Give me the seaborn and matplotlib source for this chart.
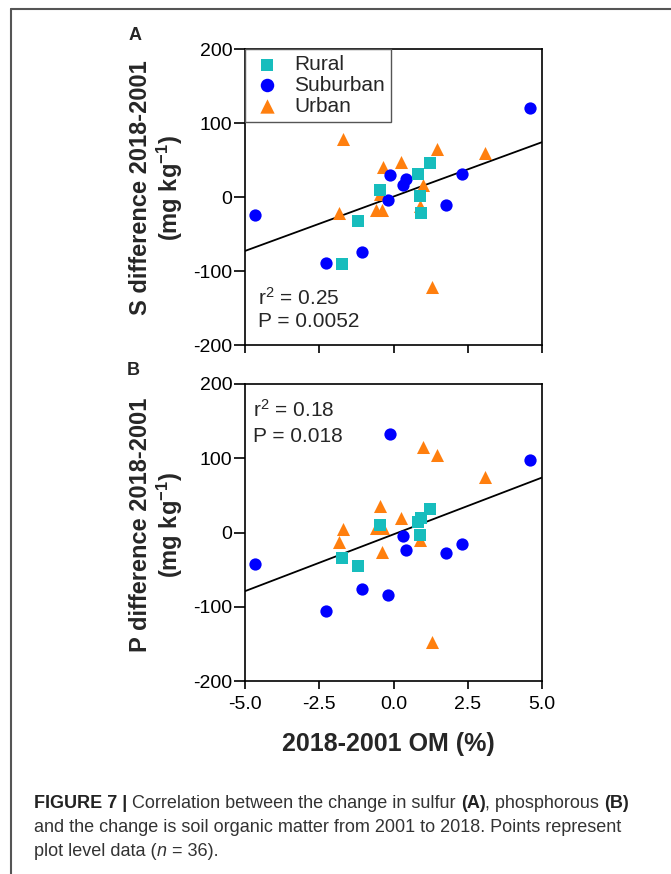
import numpy as np
import pandas as pd
import matplotlib
matplotlib.use("Agg")
import matplotlib.pyplot as plt
from matplotlib.lines import Line2D
import seaborn as sns

# ---------------- data ----------------
groups = ["Rural", "Suburban", "Urban"]

rural_om = [-1.73, -1.20, -0.45, 0.84, 0.90, 0.92, 1.22]
rural_s = [-91, -32, 10, 31, 1, -22, 46]
rural_p = [-35, -45, 10, 14, -4, 20, 31]

suburban_om = [-4.66, -2.27, -1.07, -0.18, -0.11, 0.31, 0.43, 1.78, 2.30, 4.60]
suburban_s = [-24, -89, -74, -4, 30, 16, 24, -11, 31, 120]
suburban_p = [-43, -106, -76, -84, 133, -5, -24, -28, -16, 98]

urban_om = [-1.84, -1.71, -0.58, -0.47, -0.39, -0.36, 0.25, 0.88, 1.01, 1.31, 1.46, 3.07]
urban_s = [-21, 78, -17, 4, -17, 40, 47, -12, 16, -121, 65, 60]
urban_p = [-13, 5, 6, 36, -26, 6, 20, -10, 115, -148, 105, 75]

# fitted regression lines (slope, intercept)
fit_s = (14.7, 0.6)
fit_p = (15.3, -2.5)

stats_s = ["r$^2$ = 0.25", "P = 0.0052"]
stats_p = ["r$^2$ = 0.18", "P = 0.018"]

x_ticks = [-5.0, -2.5, 0.0, 2.5, 5.0]
x_ticklabels = ["-5.0", "-2.5", "0.0", "2.5", "5.0"]
y_ticks = [-200, -100, 0, 100, 200]

ylabel_s = "S difference 2018-2001\n(mg kg$^{\\mathbf{-1}}$)"
ylabel_p = "P difference 2018-2001\n(mg kg$^{\\mathbf{-1}}$)"
xlabel = "2018-2001 OM (%)"

caption = [
    [("FIGURE 7 | ", "bold", "normal"), ("Correlation between the change in sulfur ", "normal", "normal"),
     ("(A)", "bold", "normal"), (", phosphorous ", "normal", "normal"), ("(B)", "bold", "normal")],
    [("and the change is soil organic matter from 2001 to 2018. Points represent", "normal", "normal")],
    [("plot level data (", "normal", "normal"), ("n", "normal", "italic"), (" = 36).", "normal", "normal")],
]

rows = []
for g, om, s, p in [("Rural", rural_om, rural_s, rural_p),
                    ("Suburban", suburban_om, suburban_s, suburban_p),
                    ("Urban", urban_om, urban_s, urban_p)]:
    for a, b, c in zip(om, s, p):
        rows.append({"group": g, "om": a, "S": b, "P": c})
df = pd.DataFrame(rows)

colors = {"Rural": "#17BDBD", "Suburban": "#0000FF", "Urban": "#FF7F0E"}
markers = {"Rural": "s", "Suburban": "o", "Urban": "^"}
msize = {"Rural": 66, "Suburban": 78, "Urban": 88}

# ---------------- style ----------------
sns.set_style("ticks")
plt.rcParams["font.family"] = ["Liberation Sans", "DejaVu Sans"]
plt.rcParams["mathtext.fontset"] = "custom"
plt.rcParams["mathtext.rm"] = "Liberation Sans"
plt.rcParams["mathtext.it"] = "Liberation Sans:italic"
plt.rcParams["mathtext.bf"] = "Liberation Sans:bold"
plt.rcParams["axes.unicode_minus"] = False

W, H = 671, 874
fig = plt.figure(figsize=(W / 100, H / 100), dpi=100)

def px_axes(l, t, r, b):
    return fig.add_axes([l / W, 1 - b / H, (r - l) / W, (b - t) / H])

axA = px_axes(245, 49, 542, 345)
axB = px_axes(245, 384, 542, 681)

def panel(ax, ycol, fit, stats, stat_pos, legend):
    for g in ["Urban", "Suburban", "Rural"]:
        sub = df[df.group == g]
        sns.scatterplot(data=sub, x="om", y=ycol, ax=ax, color=colors[g], marker=markers[g],
                        s=msize[g], linewidth=0, label=g, legend=legend, zorder=3)
    xs = np.array([-5.0, 5.0])
    ax.plot(xs, fit[0] * xs + fit[1], color="black", lw=1.3, zorder=2)
    ax.set_xlim(-5, 5)
    ax.set_ylim(-200, 200)
    ax.set_xticks(x_ticks)
    ax.set_yticks(y_ticks)
    ax.set_xlabel("")
    ax.set_ylabel("")
    for sp in ax.spines.values():
        sp.set_linewidth(1.2)
        sp.set_color("black")
    ax.tick_params(axis="y", length=8, width=1.2, pad=1, labelsize=14, colors="black")
    ax.tick_params(axis="x", length=6, width=1.2, pad=5, labelsize=14, colors="black")
    (tx, ty1, ty2) = stat_pos
    ax.text(tx, ty1, stats[0], transform=ax.transAxes, fontsize=15, va="center", ha="left")
    ax.text(tx, ty2, stats[1], transform=ax.transAxes, fontsize=15, va="center", ha="left")
    if legend:
        h, l = ax.get_legend_handles_labels()
        order = [l.index(g) for g in groups]
        leg = ax.legend([h[i] for i in order], [l[i] for i in order], loc="upper left",
                        bbox_to_anchor=(0, 1), borderaxespad=0, frameon=True, fancybox=False,
                        edgecolor="#555555", framealpha=1, fontsize=15, handlelength=1.5,
                        handletextpad=0.55, borderpad=0.3, labelspacing=0.08, markerscale=1.1)
        leg.get_frame().set_linewidth(1.0)
    else:
        if ax.get_legend() is not None:
            ax.get_legend().remove()

panel(axA, "S", fit_s, stats_s, (0.044, 0.16, 0.078), True)
panel(axB, "P", fit_p, stats_p, (0.026, 0.912, 0.822), False)
axA.set_xticklabels([])
axB.set_xticklabels(x_ticklabels)

# y labels
fig.text(157 / W, 1 - 188 / H, ylabel_s, rotation=90, ha="center", va="center",
         multialignment="center", fontsize=17, fontweight="bold", linespacing=1.1)
fig.text(157 / W, 1 - 525 / H, ylabel_p, rotation=90, ha="center", va="center",
         multialignment="center", fontsize=17, fontweight="bold", linespacing=1.1)
# x label
fig.text(388 / W, 1 - 744 / H, xlabel, ha="center", va="center", fontsize=18, fontweight="bold")
# panel letters
fig.text(135 / W, 1 - 35 / H, "A", ha="center", va="center", fontsize=13, fontweight="bold")
fig.text(133 / W, 1 - 370 / H, "B", ha="center", va="center", fontsize=13, fontweight="bold")

# frame lines
fig.add_artist(Line2D([11 / W, 1.0], [1 - 9 / H, 1 - 9 / H], transform=fig.transFigure,
                      color="#555555", lw=1.5))
fig.add_artist(Line2D([11 / W, 11 / W], [1 - 9 / H, 0.0], transform=fig.transFigure,
                      color="#555555", lw=1.5))

# caption
renderer = fig.canvas.get_renderer()
line_y = [804, 828, 852]
for runs, yy in zip(caption, line_y):
    x = 34 / W
    for s, wt, st in runs:
        t = fig.text(x, 1 - yy / H, s, ha="left", va="center", fontsize=13,
                     fontweight=wt, fontstyle=st, color="#333333" if wt == "normal" else "#222222")
        bb = t.get_window_extent(renderer)
        x += bb.width / W

fig.savefig("out.png", dpi=100)
